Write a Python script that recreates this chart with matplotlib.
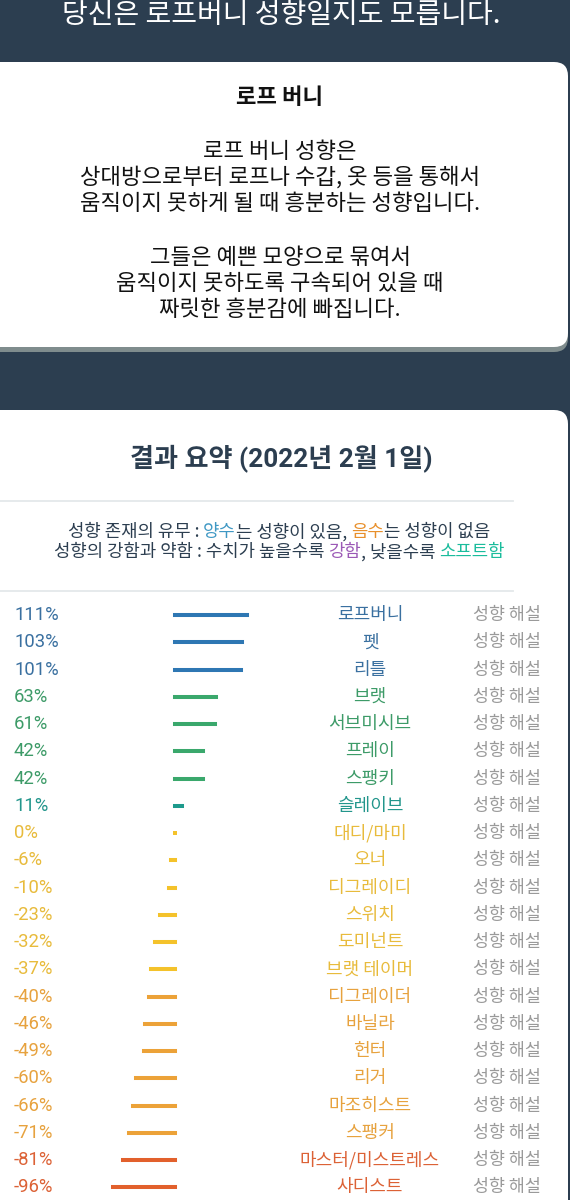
import matplotlib
matplotlib.use('Agg')
import matplotlib.pyplot as plt
from matplotlib.patches import FancyBboxPatch
from matplotlib import transforms

plt.rcParams['font.family'] = ['Noto Sans CJK KR', 'DejaVu Sans']

# 화면 텍스트
header = '당신은 로프버니 성향일지도 모릅니다.'
card_title = '로프 버니'
card_lines = ['로프 버니 성향은',
              '상대방으로부터 로프나 수갑, 옷 등을 통해서',
              '움직이지 못하게 될 때 흥분하는 성향입니다.',
              '',
              '그들은 예쁜 모양으로 묶여서',
              '움직이지 못하도록 구속되어 있을 때',
              '짜릿한 흥분감에 빠집니다.']
summary_title = '결과 요약 (2022년 2월 1일)'
legend_line1 = [('성향 존재의 유무 : ', 'dark'), ('양수', 'pos'), ('는 성향이 있음, ', 'dark'),
                ('음수', 'neg'), ('는 성향이 없음', 'dark')]
legend_line2 = [('성향의 강함과 약함 : 수치가 높을수록 ', 'dark'), ('강함', 'strong'),
                (', 낮을수록 ', 'dark'), ('소프트함', 'soft')]
link_label = '성향 해설'

# 결과 데이터
names = ['로프버니', '펫', '리틀', '브랫', '서브미시브', '프레이', '스팽키', '슬레이브',
         '대디/마미', '오너', '디그레이디', '스위치', '도미넌트', '브랫 테이머', '디그레이더',
         '바닐라', '헌터', '리거', '마조히스트', '스팽커', '마스터/미스트레스', '사디스트']
values = [111, 103, 101, 63, 61, 42, 42, 11, 0, -6, -10, -23, -32, -37, -40,
          -46, -49, -60, -66, -71, -81, -96]
tiers = ['blue'] * 3 + ['green'] * 4 + ['teal'] + ['yellow'] * 6 + ['orange'] * 6 + ['red'] * 2

# 색상
navy = '#2c3e50'
legend_colors = {'dark': navy, 'pos': '#3f98c4', 'neg': '#e8902c', 'strong': '#9b59b6', 'soft': '#1abc9c'}
bar_palette = {'blue': '#2e77b3', 'green': '#3aa86c', 'teal': '#1d9a8c',
               'yellow': '#f4c22b', 'orange': '#eca238', 'red': '#e2602c'}
text_palette = {'blue': '#3a70a0', 'green': '#3d9b68', 'teal': '#23968c',
                'yellow': '#e8bb3c', 'orange': '#e7a23e', 'red': '#dc6236'}

fig = plt.figure(figsize=(5.7, 12), dpi=100)
fig.patch.set_facecolor(navy)

# 배경 (픽셀 좌표)
bg = fig.add_axes([0, 0, 1, 1])
bg.set_xlim(0, 570)
bg.set_ylim(1200, 0)
bg.axis('off')

bg.text(281, 15, header, color='white', fontsize=20.2, ha='center', va='center')

# 첫 번째 카드 + 그림자
bg.add_patch(FancyBboxPatch((-30, 67), 598, 285, boxstyle='round,pad=0,rounding_size=14',
                            fc='#7f8c8d', ec='none'))
bg.add_patch(FancyBboxPatch((-30, 62), 598, 285, boxstyle='round,pad=0,rounding_size=14',
                            fc='white', ec='none'))
bg.text(280, 97, card_title, fontsize=16, fontweight='bold', color='#111111', ha='center', va='center')
for i, line in enumerate(card_lines):
    bg.text(280, 151 + i * 26.5, line, fontsize=16, color='#111111', ha='center', va='center')

# 두 번째 카드
bg.add_patch(FancyBboxPatch((-30, 410), 598, 830, boxstyle='round,pad=0,rounding_size=14',
                            fc='white', ec='none'))
bg.text(281, 458, summary_title, fontsize=18.8, fontweight='bold', color=navy,
        family=['Roboto', 'Noto Sans CJK KR'], ha='center', va='center')
bg.plot([0, 513], [501, 501], color='#e4e8ea', lw=1.3)
bg.plot([0, 513], [591, 591], color='#e4e8ea', lw=1.3)

renderer = fig.canvas.get_renderer()


def text_width(s, size):
    t = bg.text(0, 0, s + '가', fontsize=size)
    w = t.get_window_extent(renderer).width
    t.remove()
    return w


def rich_line(parts, cx, y, size):
    base = text_width('', size)
    total = text_width(''.join(p for p, _ in parts), size) - base
    x0 = cx - total / 2
    pre = ''
    for s, c in parts:
        bg.text(x0 + text_width(pre, size) - base, y, s, color=legend_colors[c],
                fontsize=size, ha='left', va='center')
        pre += s


rich_line(legend_line1, 279, 532, 12.8)
rich_line(legend_line2, 279.5, 552, 12.8)

# 결과 막대
ax = fig.add_axes([0, 0, 1, (1200 - 602) / 1200])
ax.set_xlim(-270.5, 609.1)
ax.set_ylim(21.46, -0.477)
ax.axis('off')
ax.patch.set_alpha(0)

rows = list(range(len(values)))
bars = ax.hlines(rows, 0, values, colors=[bar_palette[t] for t in tiers], linewidth=2.9)
bars.set_capstyle('projecting')
ax.scatter([0 for v in values if v == 0], [r for r, v in zip(rows, values) if v == 0],
           marker='s', s=8, color=[bar_palette[t] for t, v in zip(tiers, values) if v == 0], lw=0)

trans = transforms.blended_transform_factory(bg.transData, ax.transData)
for r, (n, v, t) in enumerate(zip(names, values, tiers)):
    ax.text(14, r, f'{v}%', transform=trans, fontsize=13.3, color=text_palette[t],
            family=['Roboto', 'Noto Sans CJK KR'], ha='left', va='center')
    ax.text(370, r, n, transform=trans, fontsize=13, color=text_palette[t], ha='center', va='center')
    ax.text(507, r, link_label, transform=trans, fontsize=12.5, color='#9a9a9a', ha='center', va='center')

fig.savefig('out.png', dpi=100, facecolor=fig.get_facecolor())
